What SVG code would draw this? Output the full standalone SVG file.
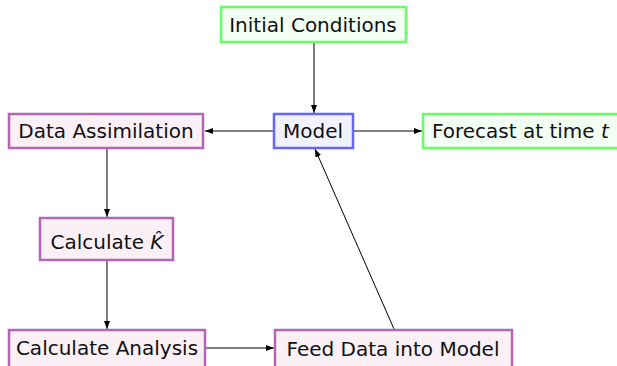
<svg xmlns="http://www.w3.org/2000/svg" width="617" height="366" viewBox="0 0 617 366">
  <style>
    text { font-family: "DejaVu Sans", "Liberation Sans", sans-serif; font-size: 20px; fill: #111; text-anchor: middle; }
    .green { fill: #f2fff2; stroke: #66ff66; stroke-width: 2.5; }
    .blue { fill: #f2f2ff; stroke: #6666ff; stroke-width: 2.5; }
    .violet { fill: #fbf0f6; stroke: #b366b3; stroke-width: 2.5; }
    .edge { stroke: #000; stroke-width: 1; fill: none; marker-end: url(#arrow); }
    .math { font-style: italic; }
  </style>
  <defs>
    <marker id="arrow" viewBox="0 0 8 6" refX="8" refY="3" markerWidth="8" markerHeight="6" markerUnits="userSpaceOnUse" orient="auto">
      <path d="M0,0 L8,3 L0,6 z" fill="#000"/>
    </marker>
  </defs>

  <g id="connectors">
    <line class="edge" x1="314" y1="43" x2="314" y2="113"/>
    <line class="edge" x1="273" y1="131" x2="205" y2="131"/>
    <line class="edge" x1="353" y1="131" x2="422" y2="131"/>
    <line class="edge" x1="107" y1="149" x2="107" y2="217"/>
    <line class="edge" x1="107" y1="261" x2="107" y2="329"/>
    <line class="edge" x1="206" y1="348" x2="274" y2="348"/>
    <line class="edge" x1="394" y1="329" x2="315" y2="149"/>
  </g>

  <g id="initial-conditions">
    <rect class="green" x="221" y="7" width="185" height="35"/>
    <text x="313" y="32">Initial Conditions</text>
  </g>

  <g id="model">
    <rect class="blue" x="274" y="114" width="79" height="34"/>
    <text x="313" y="138">Model</text>
  </g>

  <g id="data-assimilation">
    <rect class="violet" x="9" y="114" width="194" height="34"/>
    <text x="106" y="138">Data Assimilation</text>
  </g>

  <g id="forecast">
    <rect class="green" x="423" y="114" width="200" height="34"/>
    <text x="432" y="138" style="text-anchor:start">Forecast at time <tspan class="math">t</tspan></text>
  </g>

  <g id="calculate-k">
    <rect class="violet" x="40" y="218" width="133" height="42"/>
    <text x="107" y="249">Calculate <tspan class="math">K̂</tspan></text>
  </g>

  <g id="calculate-analysis">
    <rect class="violet" x="9" y="330" width="196" height="42"/>
    <text x="107" y="355">Calculate Analysis</text>
  </g>

  <g id="feed-data">
    <rect class="violet" x="275" y="330" width="237" height="42"/>
    <text x="393" y="356">Feed Data into Model</text>
  </g>
</svg>
